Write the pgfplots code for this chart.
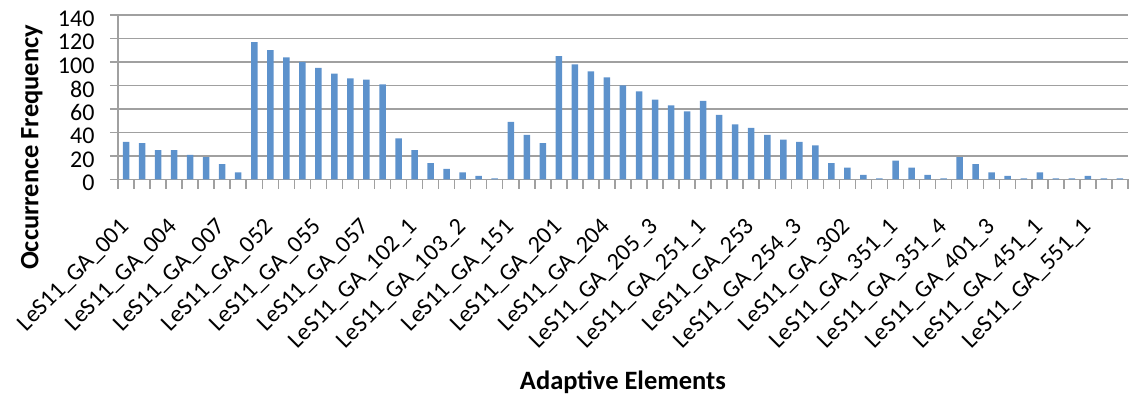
\documentclass[border=0pt]{standalone}
\usepackage{fontspec}
\setmainfont{Carlito}
\usepackage{pgfplots}
\pgfplotsset{compat=1.18}
\definecolor{barblue}{RGB}{93,146,204}
\definecolor{gridgray}{RGB}{160,160,160}
\begin{document}
\begin{tikzpicture}
\begin{axis}[
  scale only axis, width=1010pt, height=164.5pt,
  xmin=0.5, xmax=63.5, ymin=0, ymax=140,
  ytick={0,20,...,140},
  xtick={1,4,...,61},
  xticklabels={LeS11\_GA\_001,LeS11\_GA\_004,LeS11\_GA\_007,LeS11\_GA\_052,LeS11\_GA\_055,LeS11\_GA\_057,LeS11\_GA\_102\_1,LeS11\_GA\_103\_2,LeS11\_GA\_151,LeS11\_GA\_201,LeS11\_GA\_204,LeS11\_GA\_205\_3,LeS11\_GA\_251\_1,LeS11\_GA\_253,LeS11\_GA\_254\_3,LeS11\_GA\_302,LeS11\_GA\_351\_1,LeS11\_GA\_351\_4,LeS11\_GA\_401\_3,LeS11\_GA\_451\_1,LeS11\_GA\_551\_1},
  minor xtick={0.5,1.5,...,63.5},
  major x tick style={draw=none},
  tick align=outside,
  major tick length=8pt,
  minor tick length=9pt,
  tick style={gridgray, line width=1.5pt},
  axis lines*=left,
  axis line style={gridgray, line width=1.5pt, -},
  ymajorgrids,
  grid style={gridgray, line width=1.5pt},
  /pgf/number format/assume math mode=true,
  tick label style={font=\fontsize{24}{28}\selectfont, black},
  xticklabel style={inner sep=0pt, xshift=-7pt, yshift=-29.5pt, rotate=45, anchor=north east},
  yticklabel style={xshift=-12pt, yshift=-3.5pt},
  xlabel={Adaptive Elements},
  ylabel={Occurrence Frequency},
  label style={font=\fontsize{26.5}{30}\selectfont\bfseries},
  xlabel style={at={(axis description cs:0.5,0)}, anchor=base, yshift=-209.8pt},
  ylabel style={at={(axis description cs:0,0.195)}, anchor=base, yshift=79.5pt},
]
\coordinate (O) at (rel axis cs:0,0);
\addplot[ybar, bar width=6.5pt, fill=barblue, draw=none] coordinates {
(1,32) (2,31) (3,25) (4,25) (5,21) (6,19) (7,13) (8,6)
(9,117) (10,110) (11,104) (12,100) (13,95) (14,90) (15,86) (16,85) (17,81)
(18,35) (19,25) (20,14) (21,9) (22,6) (23,3) (24,1)
(25,49) (26,38) (27,31)
(28,105) (29,98) (30,92) (31,87) (32,80) (33,75) (34,68) (35,63) (36,58) (37,67)
(38,55) (39,47) (40,44) (41,38) (42,34) (43,32) (44,29)
(45,14) (46,10) (47,4) (48,1) (49,16) (50,10) (51,4) (52,1)
(53,19) (54,13) (55,6) (56,3) (57,1) (58,6) (59,1) (60,1) (61,3) (62,1) (63,1)
};
\end{axis}
\path (O) ++(-118pt,-218.5pt) rectangle ++(1133pt,398pt);
\end{tikzpicture}
\end{document}
